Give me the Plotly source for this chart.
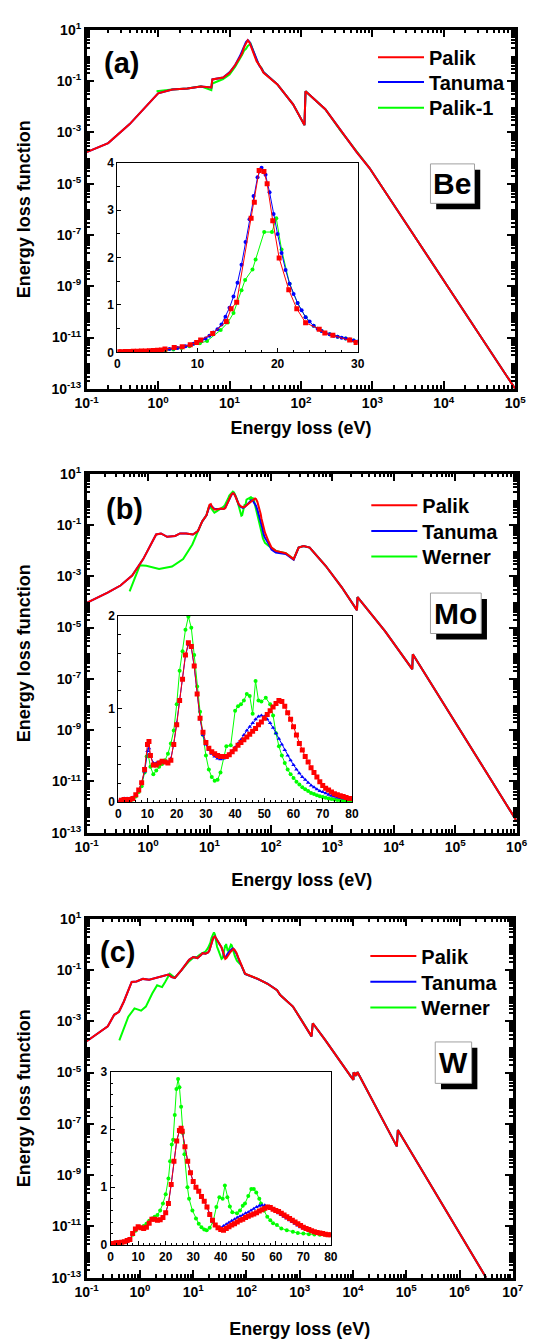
import plotly.graph_objects as go

# ---------------- DATA ----------------
# Panel (a) Be, main (log-log)
be_palik_E = [0.1, 0.2, 0.4, 0.68, 1.0, 1.58, 2.57, 3.98, 5.56, 5.75, 8.13, 10, 12, 14, 15, 16, 17, 18, 19, 20, 21, 22, 24, 26, 28, 30,
              46.8, 77.6, 112, 116, 219, 363, 603, 912, 100000]
be_palik_elf = [1.70e-4, 3.80e-4, 2.09e-3, 1.05e-2, 3.31e-2, 4.68e-2, 5.13e-2, 6.17e-2, 5.62e-2, 0.115, 0.138, 0.21, 0.42, 0.85, 1.2, 2.1, 3.1, 3.87, 3.2, 2.15, 1.5, 1.05, 0.58, 0.43, 0.31, 0.21,
                7.41e-2, 1.23e-2, 1.91e-3, 3.98e-2, 7.94e-3, 1.12e-3, 1.70e-4, 4.07e-5, 1e-13]
be_tanuma_E = [0.1, 0.2, 0.4, 0.68, 1.0, 1.58, 2.57, 3.98, 5.56, 5.75, 8.13, 10, 12, 14, 15, 16, 17, 18, 19, 20, 21, 22, 24, 26, 28, 30,
               46.8, 77.6, 112, 116, 219, 363, 603, 912, 100000]
be_tanuma_elf = [1.70e-4, 3.80e-4, 2.09e-3, 1.05e-2, 3.31e-2, 4.68e-2, 5.13e-2, 6.17e-2, 5.62e-2, 0.115, 0.138, 0.22, 0.42, 0.94, 1.5, 2.38, 3.33, 3.9, 3.36, 2.47, 1.71, 1.21, 0.64, 0.40, 0.31, 0.22,
                 7.41e-2, 1.23e-2, 1.91e-3, 3.98e-2, 7.94e-3, 1.12e-3, 1.70e-4, 4.07e-5, 1e-13]
be_palik1_E = [0.95, 1.58, 2.57, 3.98, 5.56, 5.75, 8.13, 10, 12, 14, 15, 16, 17, 18, 19, 19.8, 20.5, 21.5, 22.5, 24, 26, 28, 30,
               46.8, 77.6, 112, 116, 219, 363, 603, 912, 100000]
be_palik1_elf = [4.0e-2, 4.7e-2, 5.1e-2, 6.2e-2, 4.4e-2, 8.0e-2, 0.12, 0.18, 0.36, 0.70, 1.05, 1.55, 1.8, 2.35, 2.54, 2.83, 2.17, 1.45, 1.04, 0.65, 0.42, 0.32, 0.22,
                 7.41e-2, 1.23e-2, 1.91e-3, 3.98e-2, 7.94e-3, 1.12e-3, 1.70e-4, 4.07e-5, 1e-13]

# Panel (a) inset (linear)
be_in_palik_E = [0.2, 0.5, 1.0, 1.5, 2.0, 2.5, 3.0, 3.5, 4.0, 4.5, 5.0, 5.5, 5.95, 7.1, 8.1, 9.1, 9.9, 10.4, 11.9, 13.6, 14.2, 14.9,
                 16.7, 17.1, 17.7, 18.3, 18.7, 19.4, 20.2, 21.4, 22.4, 23.5, 25.2, 25.9, 26.9, 29.0, 29.8]
be_in_palik_elf = [0.01, 0.015, 0.02, 0.02, 0.025, 0.025, 0.03, 0.03, 0.035, 0.04, 0.045, 0.05, 0.07, 0.10, 0.12, 0.16, 0.21, 0.26, 0.40, 0.65, 0.92, 1.06,
                   2.83, 3.17, 3.84, 3.82, 3.56, 2.78, 1.99, 1.32, 0.92, 0.625, 0.49, 0.41, 0.36, 0.26, 0.21]
be_in_tanuma_E = [0.5, 1, 1.5, 2, 2.5, 3, 3.5, 4, 4.5, 5, 5.5, 6, 6.5, 7, 7.5, 8, 8.5, 9, 9.5, 10, 10.5, 11, 11.5, 12, 12.5, 13, 13.5, 14, 14.5, 15,
                  15.5, 16, 16.5, 17, 17.5, 18, 18.5, 19, 19.5, 20, 20.5, 21, 21.5, 22, 22.5, 23, 23.5, 24, 24.5, 25, 25.5, 26, 26.5, 27, 27.5, 28, 28.5, 29, 29.5, 30]
be_in_tanuma_elf = [0.01, 0.015, 0.02, 0.02, 0.025, 0.03, 0.03, 0.035, 0.04, 0.045, 0.05, 0.06, 0.07, 0.08, 0.09, 0.11, 0.13, 0.15, 0.18, 0.22, 0.25, 0.29, 0.35, 0.42, 0.49, 0.59, 0.75, 0.94, 1.18, 1.47,
                    1.85, 2.33, 2.81, 3.30, 3.70, 3.90, 3.75, 3.38, 2.92, 2.50, 2.10, 1.74, 1.45, 1.23, 1.04, 0.89, 0.74, 0.65, 0.56, 0.50, 0.45, 0.41, 0.38, 0.35, 0.33, 0.31, 0.29, 0.27, 0.25, 0.23]
be_in_palik1_E = [1, 2, 3, 4, 5, 6, 7, 8, 9, 10.3, 11.2, 12.9, 13.8, 14.5, 15.5, 15.95, 16.87, 17.26, 18.33, 19.3, 19.84, 20.5, 21.5, 22.5, 23.5, 24.5, 25.5, 26.5, 27.5, 28.5, 29.5]
be_in_palik1_elf = [0.005, 0.01, 0.015, 0.02, 0.03, 0.04, 0.06, 0.09, 0.13, 0.19, 0.24, 0.47, 0.63, 0.83, 1.31, 1.53, 1.75, 1.96, 2.54, 2.54, 2.83, 2.17, 1.45, 1.04, 0.74, 0.56, 0.45, 0.38, 0.33, 0.29, 0.25]

# Panel (b) Mo, main
mo_palik_E = [0.1, 0.219, 0.355, 0.55, 0.832, 1.35, 1.62, 2.04, 2.75, 3.31, 4.17, 5.37, 6.46, 7.59, 8.91, 10, 10.5, 11, 12, 13, 15, 17, 18, 19, 20, 21, 22, 23, 24, 25, 26, 27, 28, 29, 30,
              32, 35, 37, 40, 45, 50, 55, 57, 60, 62, 65, 68, 70, 72, 75, 80, 90, 102, 120, 174, 234, 282, 339, 427, 776, 1413, 2512, 2570, 7244, 19953, 20417, 1e6]
mo_palik_elf = [9.12e-5, 2.29e-4, 4.37e-4, 1.07e-3, 4.68e-3, 4.27e-2, 4.68e-2, 3.47e-2, 3.72e-2, 4.68e-2, 4.68e-2, 4.27e-2, 5.75e-2, 0.138, 0.24, 0.62, 0.65, 0.50, 0.40, 0.40, 0.44, 0.42, 0.45, 0.62, 0.83, 1.09, 1.32, 1.58, 1.71, 1.67, 1.46, 1.16, 0.90, 0.75, 0.64,
                0.54, 0.49, 0.50, 0.57, 0.73, 0.90, 1.09, 1.03, 0.81, 0.63, 0.43, 0.27, 0.18, 0.13, 0.08, 0.05, 0.025, 1.32e-2, 9.77e-3, 7.94e-3, 4.68e-3, 1.32e-2, 1.51e-2, 1.32e-2, 2.57e-3, 3.80e-4, 4.79e-5, 1.55e-4, 7.08e-6, 2.40e-7, 9.12e-7, 2.9e-13]
mo_tanuma_E = [0.1, 0.219, 0.355, 0.55, 0.832, 1.35, 1.62, 2.04, 2.75, 3.31, 4.17, 5.37, 6.46, 7.59, 8.91, 10, 10.5, 11, 12, 13, 15, 17, 18, 19, 20, 21, 22, 23, 24, 25, 26, 27, 28, 29, 30,
               32, 35, 37, 40, 45, 48, 50, 55, 57, 60, 62, 65, 68, 70, 72, 75, 78, 90, 102, 120, 174, 234, 282, 339, 427, 776, 1413, 2512, 2570, 7244, 19953, 20417, 1e6]
mo_tanuma_elf = [9.12e-5, 2.29e-4, 4.37e-4, 1.07e-3, 4.68e-3, 4.27e-2, 4.68e-2, 3.47e-2, 3.72e-2, 4.68e-2, 4.68e-2, 4.27e-2, 5.75e-2, 0.138, 0.24, 0.55, 0.58, 0.50, 0.42, 0.42, 0.44, 0.43, 0.47, 0.62, 0.85, 1.10, 1.33, 1.57, 1.69, 1.66, 1.45, 1.15, 0.89, 0.72, 0.62,
                 0.52, 0.46, 0.49, 0.59, 0.81, 0.92, 0.92, 0.68, 0.56, 0.40, 0.31, 0.21, 0.14, 0.11, 0.08, 0.05, 0.035, 0.02, 1.1e-2, 8.5e-3, 7.4e-3, 4.4e-3, 1.32e-2, 1.51e-2, 1.32e-2, 2.57e-3, 3.80e-4, 4.79e-5, 1.55e-4, 7.08e-6, 2.40e-7, 9.12e-7, 2.9e-13]
mo_werner_E = [0.5, 0.733, 0.933, 1.51, 2.45, 3.72, 5.25, 6.31, 7.59, 8.91, 9.7, 10.3, 11, 12, 13, 15, 17, 18, 19, 20, 21, 22, 23, 24, 25, 26, 27, 28, 29, 30, 31, 32, 33, 34, 35, 36, 37, 38.5,
               40, 42, 44, 45, 46, 47, 48, 50.5, 52, 54, 56, 58, 60, 62, 65, 68, 70, 74, 80, 90, 102, 120, 174, 234, 282, 339, 427, 776, 1413, 2512, 2570, 7244, 19953, 20417, 1e6]
mo_werner_elf = [2.57e-4, 2.69e-3, 2.57e-3, 1.91e-3, 2.40e-3, 4.68e-3, 1.74e-2, 5.01e-2, 0.138, 0.24, 0.49, 0.50, 0.38, 0.30, 0.34, 0.41, 0.52, 0.63, 0.77, 1.05, 1.41, 1.62, 1.85, 1.99, 1.87, 1.58, 1.24, 0.97, 0.72, 0.50, 0.35, 0.27, 0.23, 0.24, 0.32, 0.48, 0.60, 0.61,
                 0.98, 1.05, 1.16, 1.14, 0.95, 1.30, 1.09, 1.12, 1.05, 0.74, 0.50, 0.35, 0.26, 0.19, 0.12, 0.075, 0.055, 0.03, 0.02, 0.016, 1.32e-2, 9.77e-3, 7.94e-3, 4.68e-3, 1.32e-2, 1.51e-2, 1.32e-2, 2.57e-3, 3.80e-4, 4.79e-5, 1.55e-4, 7.08e-6, 2.40e-7, 9.12e-7, 2.9e-13]

# Panel (b) inset
mo_in_E = [0, 1, 2, 3, 4, 5, 6, 7, 8, 9, 10, 10.5, 11, 12, 13, 14, 15, 16, 17, 18, 19, 20, 21, 22, 23, 24, 25, 26, 27, 28, 29, 30, 31, 32, 33, 34, 35, 36, 37, 38, 39, 40,
           41, 42, 43, 44, 45, 46, 47, 48, 49, 50, 51, 52, 53, 54, 55, 56, 57, 58, 59, 60, 61, 62, 63, 64, 65, 66, 67, 68, 69, 70, 71, 72, 73, 74, 75, 76, 77, 78, 79, 80]
mo_in_palik = [0.0, 0.02, 0.03, 0.03, 0.03, 0.04, 0.08, 0.13, 0.21, 0.35, 0.62, 0.65, 0.50, 0.40, 0.40, 0.42, 0.44, 0.43, 0.42, 0.45, 0.62, 0.83, 1.09, 1.32, 1.58, 1.71, 1.67, 1.46, 1.16, 0.90, 0.75, 0.64, 0.58, 0.54, 0.52, 0.50, 0.49, 0.49, 0.49, 0.51, 0.54, 0.57,
               0.61, 0.64, 0.67, 0.70, 0.73, 0.76, 0.79, 0.83, 0.86, 0.90, 0.94, 0.98, 1.02, 1.06, 1.09, 1.08, 1.03, 0.96, 0.89, 0.81, 0.72, 0.63, 0.56, 0.49, 0.43, 0.37, 0.32, 0.27, 0.22, 0.18, 0.15, 0.13, 0.11, 0.09, 0.08, 0.07, 0.06, 0.05, 0.04, 0.04]
mo_in_tanuma = [0.01, 0.03, 0.04, 0.04, 0.04, 0.05, 0.08, 0.13, 0.21, 0.33, 0.55, 0.58, 0.50, 0.42, 0.42, 0.43, 0.44, 0.43, 0.43, 0.47, 0.62, 0.85, 1.10, 1.33, 1.57, 1.69, 1.66, 1.45, 1.15, 0.89, 0.72, 0.62, 0.56, 0.52, 0.49, 0.47, 0.46, 0.47, 0.49, 0.52, 0.55, 0.59,
                0.63, 0.67, 0.72, 0.77, 0.81, 0.85, 0.89, 0.92, 0.93, 0.92, 0.89, 0.85, 0.80, 0.74, 0.68, 0.62, 0.56, 0.50, 0.45, 0.40, 0.35, 0.31, 0.27, 0.24, 0.21, 0.18, 0.16, 0.14, 0.12, 0.11, 0.095, 0.08, 0.07, 0.06, 0.05, 0.045, 0.04, 0.035, 0.03, 0.03]
mo_in_werner_E = [1, 2, 3, 4, 5, 6, 7, 8, 9, 9.7, 10.3, 11, 12, 13, 14, 15, 16, 17, 18, 19, 20, 21, 22, 23, 24, 25, 26, 27, 28, 29, 30, 31, 32, 33, 34, 35, 36, 37, 38.5,
                  40, 41, 42, 43, 44, 45, 46, 47, 48, 49, 50.5, 52, 53, 54, 55, 56, 57, 58, 59, 60, 61, 62, 63, 64, 65, 66, 67, 68, 69, 70, 71, 72, 73, 74, 75, 76, 77, 78, 79, 80]
mo_in_werner = [0.01, 0.02, 0.02, 0.02, 0.03, 0.06, 0.11, 0.17, 0.32, 0.49, 0.50, 0.38, 0.30, 0.34, 0.38, 0.41, 0.45, 0.52, 0.63, 0.77, 1.05, 1.41, 1.62, 1.85, 1.99, 1.87, 1.58, 1.24, 0.97, 0.72, 0.50, 0.35, 0.27, 0.23, 0.24, 0.32, 0.48, 0.60, 0.61,
                0.98, 1.03, 1.05, 1.09, 1.16, 1.14, 0.95, 1.30, 1.09, 1.08, 1.12, 1.05, 0.93, 0.74, 0.60, 0.50, 0.42, 0.35, 0.30, 0.26, 0.22, 0.19, 0.16, 0.14, 0.12, 0.10, 0.087, 0.075, 0.065, 0.055, 0.047, 0.04, 0.034, 0.03, 0.025, 0.02, 0.018, 0.015, 0.012, 0.01]

# Panel (c) W, main
w_palik_E = [0.1, 0.249, 0.328, 0.404, 0.497, 0.70, 0.861, 1.14, 1.49, 2.26, 3.42, 3.94, 4.52, 5.96, 8.39, 10, 12, 14, 15, 17, 19, 20, 21, 22, 23, 24, 25.6, 27, 28, 30, 32, 34, 36, 38, 40,
             42, 45, 50, 55, 57, 60, 65, 70, 75, 80, 94, 164, 248, 375, 430, 745, 1127, 1663, 1758, 2972, 8933, 10200, 10210, 11540, 11550, 12100, 12110, 66374, 69525, 3.16e6]
w_palik_elf = [1.66e-4, 6.31e-4, 1.78e-3, 2.34e-3, 5.75e-3, 3.39e-2, 3.55e-2, 4.47e-2, 4.17e-2, 5.25e-2, 6.61e-2, 5.25e-2, 4.90e-2, 9.55e-2, 0.25, 0.32, 0.29, 0.38, 0.45, 0.43, 0.48, 0.56, 0.72, 1.05, 1.45, 1.80, 2.02, 1.70, 1.45, 1.10, 0.93, 0.76, 0.53, 0.35, 0.27,
               0.29, 0.37, 0.50, 0.61, 0.66, 0.60, 0.46, 0.31, 0.22, 0.18, 7.1e-2, 4.47e-2, 2.88e-2, 1.62e-2, 1.05e-2, 3.72e-3, 9.77e-4, 2.57e-4, 8.32e-4, 1.91e-4, 7.41e-6, 5.2e-6, 1.0e-5, 7.5e-6, 1.0e-5, 9.0e-6, 1.05e-5, 1.32e-8, 5.75e-8, 1e-13]
w_tanuma_E = [0.1, 0.249, 0.328, 0.404, 0.497, 0.70, 0.861, 1.14, 1.49, 2.26, 3.42, 3.94, 4.52, 5.96, 8.39, 10, 12, 14, 15, 17, 19, 20, 21, 22, 23, 24, 25.6, 27, 28, 30, 32, 34, 36, 38, 40,
              42, 45, 50, 55, 57, 60, 65, 70, 75, 80, 94, 164, 248, 375, 430, 745, 1127, 1663, 1758, 2972, 8933, 10200, 10210, 11540, 11550, 12100, 12110, 66374, 69525, 3.16e6]
w_tanuma_elf = [1.66e-4, 6.31e-4, 1.78e-3, 2.34e-3, 5.75e-3, 3.39e-2, 3.55e-2, 4.47e-2, 4.17e-2, 5.25e-2, 6.61e-2, 5.25e-2, 4.90e-2, 9.55e-2, 0.25, 0.32, 0.29, 0.38, 0.45, 0.43, 0.48, 0.56, 0.72, 1.05, 1.45, 1.80, 2.02, 1.70, 1.45, 1.10, 0.93, 0.75, 0.52, 0.33, 0.30,
                0.36, 0.45, 0.57, 0.69, 0.67, 0.58, 0.43, 0.29, 0.21, 0.17, 7.0e-2, 4.4e-2, 2.9e-2, 1.62e-2, 1.05e-2, 3.72e-3, 9.77e-4, 2.57e-4, 8.32e-4, 1.91e-4, 7.41e-6, 5.2e-6, 1.0e-5, 7.5e-6, 1.0e-5, 9.0e-6, 1.05e-5, 1.32e-8, 5.75e-8, 1e-13]
w_werner_E = [0.41, 0.605, 0.79, 1.05, 1.29, 1.70, 2.10, 2.60, 2.97, 3.63, 4.52, 5.96, 8.39, 10, 12, 14, 15, 17, 19, 20, 21, 22, 23, 23.9, 24.5, 25.6, 27, 28, 30, 32, 34, 36, 37.2, 38.4, 39.5,
              40.7, 41.5, 42.4, 44.2, 45.9, 48.8, 51.1, 52.9, 54.6, 56.9, 60.4, 66, 72, 80, 94, 164, 248, 375, 430, 745, 1127, 1663, 1758, 2972, 8933, 10200, 10210, 11540, 11550, 12100, 12110, 66374, 69525, 3.16e6]
w_werner_elf = [1.78e-4, 1.51e-3, 3.16e-3, 2.57e-3, 3.72e-3, 1.20e-2, 2.51e-2, 2.14e-2, 3.39e-2, 7.08e-2, 4.90e-2, 9.55e-2, 0.22, 0.30, 0.33, 0.42, 0.46, 0.52, 0.72, 0.88, 1.15, 1.74, 2.25, 2.70, 2.87, 2.39, 1.20, 0.80, 0.55, 0.37, 0.27, 0.30, 0.40, 0.66, 0.83,
                0.80, 1.03, 0.83, 0.57, 0.55, 0.72, 0.97, 0.91, 0.72, 0.49, 0.35, 0.23, 0.19, 0.15, 7.0e-2, 4.47e-2, 2.88e-2, 1.62e-2, 1.05e-2, 3.72e-3, 9.77e-4, 2.57e-4, 8.32e-4, 1.91e-4, 7.41e-6, 5.2e-6, 1.0e-5, 7.5e-6, 1.0e-5, 9.0e-6, 1.05e-5, 1.32e-8, 5.75e-8, 1e-13]

# Panel (c) inset
w_in_E = [0, 1, 2, 3, 4, 5, 6, 7, 8, 9, 10, 11, 12, 13, 14, 15, 16, 17, 18, 19, 20, 21, 22, 23, 24, 25, 25.6, 26, 27, 28, 29, 30, 31, 32, 33, 34, 35, 36, 37, 38, 39, 40,
          41, 42, 43, 44, 45, 46, 47, 48, 49, 50, 51, 52, 53, 54, 55, 56, 57, 58, 59, 60, 61, 62, 63, 64, 65, 66, 67, 68, 69, 70, 71, 72, 73, 74, 75, 76, 77, 78, 79, 80]
w_in_palik = [0.02, 0.03, 0.04, 0.04, 0.05, 0.06, 0.08, 0.10, 0.20, 0.28, 0.32, 0.30, 0.29, 0.31, 0.38, 0.45, 0.45, 0.43, 0.44, 0.48, 0.56, 0.72, 1.05, 1.45, 1.80, 1.98, 2.02, 1.97, 1.70, 1.45, 1.25, 1.10, 1.0, 0.93, 0.84, 0.76, 0.66, 0.53, 0.43, 0.35, 0.30, 0.27,
              0.26, 0.29, 0.32, 0.35, 0.37, 0.40, 0.43, 0.45, 0.48, 0.50, 0.52, 0.54, 0.56, 0.59, 0.61, 0.64, 0.66, 0.65, 0.62, 0.60, 0.58, 0.55, 0.52, 0.49, 0.46, 0.43, 0.40, 0.37, 0.34, 0.31, 0.29, 0.27, 0.25, 0.23, 0.22, 0.21, 0.20, 0.19, 0.18, 0.18]
w_in_tanuma = [0.03, 0.04, 0.05, 0.05, 0.05, 0.06, 0.08, 0.11, 0.20, 0.28, 0.32, 0.30, 0.29, 0.31, 0.38, 0.45, 0.45, 0.43, 0.44, 0.48, 0.56, 0.72, 1.05, 1.45, 1.80, 1.98, 2.02, 1.97, 1.70, 1.45, 1.25, 1.10, 1.0, 0.93, 0.84, 0.75, 0.67, 0.52, 0.41, 0.33, 0.29, 0.30,
               0.33, 0.36, 0.39, 0.42, 0.45, 0.48, 0.50, 0.52, 0.55, 0.57, 0.60, 0.63, 0.66, 0.68, 0.69, 0.69, 0.67, 0.64, 0.61, 0.58, 0.55, 0.52, 0.49, 0.46, 0.43, 0.40, 0.37, 0.34, 0.31, 0.29, 0.27, 0.25, 0.23, 0.22, 0.21, 0.20, 0.19, 0.18, 0.18, 0.17]
w_in_werner_E = [1, 2, 3, 4, 5, 6, 7, 8, 9, 10, 11, 12, 13, 14, 15, 16, 17, 18, 19, 20, 21, 21.6, 22.2, 22.7, 23.3, 23.9, 24.5, 25.0, 25.6, 26.2, 26.8, 27.9, 28.5, 29.7, 31, 32, 33, 34, 34.9, 36,
                 37.2, 38.4, 39.5, 40.7, 41.5, 42.4, 43.3, 44.2, 45.9, 47, 48, 48.8, 50, 51.1, 52, 52.9, 54, 54.6, 55.7, 56.9, 58, 59, 60.4, 62, 64, 66.2, 68, 70, 72, 74, 76, 78, 80]
w_in_werner = [0.02, 0.03, 0.04, 0.04, 0.05, 0.07, 0.10, 0.18, 0.25, 0.30, 0.30, 0.33, 0.37, 0.42, 0.46, 0.49, 0.52, 0.60, 0.72, 0.88, 1.15, 1.45, 1.74, 1.82, 2.25, 2.70, 2.87, 2.73, 2.39, 1.94, 1.57, 1.0, 0.80, 0.60, 0.46, 0.37, 0.31, 0.27, 0.26, 0.30,
               0.40, 0.66, 0.83, 0.80, 1.03, 0.83, 0.67, 0.57, 0.55, 0.60, 0.68, 0.72, 0.85, 0.97, 0.97, 0.91, 0.80, 0.72, 0.60, 0.49, 0.43, 0.38, 0.35, 0.29, 0.26, 0.23, 0.21, 0.20, 0.19, 0.185, 0.18, 0.18, 0.18]

# ---------------- LAYOUT ----------------
W, H = 542, 1339
FONT = 'Arial, "Liberation Sans", sans-serif'
RED, BLUE, GREEN = '#ff0000', '#0000ff', '#00ff00'


def xd(a, b):
    return [a / W, b / W]


def yd(top, bottom):
    return [1 - bottom / H, 1 - top / H]


def bold(size):
    return dict(family=FONT, size=size, color='black', weight='bold')


def pow_label(d):
    return '10<sup>%d</sup>' % d


fig = go.Figure()

panels = [
    dict(mx='x', my='y', ix='x2', iy='y2', ey='y7', top=20, bottom=384, right=525.5, xmax=5, xt_standoff=12,
         inset=dict(l=110, r=361, t=155, b=347, xmax=30, ymax=4, xminor=2, yminor=0.5),
         label='(a)', lab_xy=(114, 54), elem='Be', box=(437, 156, 483, 196),
         leg_x=381, leg_y=[48, 73, 99],
         main=[('Palik-1', be_palik1_E, be_palik1_elf, GREEN), ('Tanuma', be_tanuma_E, be_tanuma_elf, BLUE), ('Palik', be_palik_E, be_palik_elf, RED)],
         ins=[(be_in_palik1_E, be_in_palik1_elf, GREEN, 'circle', 4), (be_in_tanuma_E, be_in_tanuma_elf, BLUE, 'circle', 4), (be_in_palik_E, be_in_palik_elf, RED, 'square', 5)]),
    dict(mx='x3', my='y3', ix='x4', iy='y4', ey='y8', top=470, bottom=834, right=527, xmax=6, xt_standoff=20,
         inset=dict(l=111, r=355, t=614, b=803, xmax=80, ymax=2, xminor=2, yminor=0.2),
         label='(b)', lab_xy=(118, 506), elem='Mo', box=(437, 591, 490, 632),
         leg_x=374, leg_y=[502, 528, 554],
         main=[('Werner', mo_werner_E, mo_werner_elf, GREEN), ('Tanuma', mo_tanuma_E, mo_tanuma_elf, BLUE), ('Palik', mo_palik_E, mo_palik_elf, RED)],
         ins=[(mo_in_werner_E, mo_in_werner, GREEN, 'circle', 4), (mo_in_E, mo_in_tanuma, BLUE, 'triangle-up', 4), (mo_in_E, mo_in_palik, RED, 'square', 5)]),
    dict(mx='x5', my='y5', ix='x6', iy='y6', ey='y9', top=921, bottom=1285, right=523, xmax=7, xt_standoff=24,
         inset=dict(l=103, r=333, t=1076, b=1252, xmax=80, ymax=3, xminor=2, yminor=0.2),
         label='(c)', lab_xy=(110, 955), elem='W', box=(442, 1046, 480, 1088),
         leg_x=373, leg_y=[959, 985, 1011],
         main=[('Werner', w_werner_E, w_werner_elf, GREEN), ('Tanuma', w_tanuma_E, w_tanuma_elf, BLUE), ('Palik', w_palik_E, w_palik_elf, RED)],
         ins=[(w_in_werner_E, w_in_werner, GREEN, 'circle', 4), (w_in_E, w_in_tanuma, BLUE, 'triangle-up', 4), (w_in_E, w_in_palik, RED, 'square', 5)]),
]

row = {'Palik': 0, 'Tanuma': 1, 'Palik-1': 2, 'Werner': 2}
layout = dict(width=W, height=H, margin=dict(l=0, r=0, t=0, b=0), paper_bgcolor='white', plot_bgcolor='white',
              showlegend=True, shapes=[], annotations=[])

leg_count = 0
for p in panels:
    for name, xs, ys, col in p['main']:
        leg_count += 1
        lkey = 'legend' if leg_count == 1 else 'legend%d' % leg_count
        fig.add_trace(go.Scatter(x=xs, y=ys, mode='lines', name=name, line=dict(color=col, width=2),
                                 xaxis=p['mx'], yaxis=p['my'], legend=lkey))
        layout[lkey] = dict(x=(p['leg_x'] - 4) / W, y=1 - p['leg_y'][row[name]] / H, xanchor='left', yanchor='middle',
                            bgcolor='rgba(0,0,0,0)', font=bold(20), itemwidth=46)
    for xs, ys, col, sym, sz in p['ins']:
        fig.add_trace(go.Scatter(x=xs, y=ys, mode='lines+markers', showlegend=False,
                                 line=dict(color=col, width=1), marker=dict(color=col, symbol=sym, size=sz, line=dict(width=0)),
                                 xaxis=p['ix'], yaxis=p['iy']))

    decs = list(range(-1, p['xmax'] + 1))
    xkey = 'xaxis' + p['mx'][1:]
    ykey = 'yaxis' + p['my'][1:]
    ekey = 'yaxis' + p['ey'][1:]
    ixkey = 'xaxis' + p['ix'][1:]
    iykey = 'yaxis' + p['iy'][1:]
    common = dict(showline=True, linecolor='black', linewidth=2.5, mirror='allticks', ticks='inside', ticklen=8,
                  tickwidth=2, tickcolor='black', showgrid=False, zeroline=False, tickmode='array')
    layout[xkey] = dict(type='log', range=[-1, p['xmax']], domain=xd(78, p['right']), anchor=p['my'],
                        tickvals=[10.0 ** d for d in decs], ticktext=[pow_label(d) for d in decs],
                        minor=dict(tickmode='array', tickvals=[k * 10.0 ** d for d in decs[:-1] for k in range(2, 10)],
                                   ticks='inside', ticklen=4, tickwidth=1.5, tickcolor='black'),
                        tickfont=bold(14),
                        title=dict(text='Energy loss (eV)', font=bold(18), standoff=p['xt_standoff']), **common)
    odd = list(range(-13, 2, 2))
    even = list(range(-12, 1, 2))
    layout[ykey] = dict(type='log', range=[-13, 1], domain=yd(p['top'], p['bottom']), anchor=p['mx'],
                        tickvals=[10.0 ** d for d in odd], ticktext=[pow_label(d) for d in odd],
                        minor=dict(tickmode='array', tickvals=[k * 10.0 ** d for d in range(-13, 1) for k in range(2, 10)],
                                   ticks='inside', ticklen=4, tickwidth=1.5, tickcolor='black'),
                        tickfont=bold(14),
                        title=dict(text='Energy loss function', font=bold(18), standoff=17), **common)
    # unlabeled major ticks at the even decades
    layout[ekey] = dict(type='log', range=[-13, 1], overlaying=p['my'], anchor=p['mx'], side='left',
                        showline=False, mirror='allticks', ticks='inside', ticklen=8, tickwidth=2, tickcolor='black',
                        tickmode='array', tickvals=[10.0 ** d for d in even], showticklabels=False,
                        showgrid=False, zeroline=False)
    ins = p['inset']
    icommon = dict(showline=True, linecolor='black', linewidth=1, mirror=True, ticks='inside', ticklen=4,
                   tickwidth=1, tickcolor='black', showgrid=False, zeroline=False, tickfont=bold(12))
    layout[ixkey] = dict(range=[0, ins['xmax']], domain=xd(ins['l'], ins['r']), anchor=p['iy'], dtick=10, tick0=0,
                         minor=dict(dtick=ins['xminor'], ticks='inside', ticklen=2.5, tickwidth=1, tickcolor='black'), **icommon)
    layout[iykey] = dict(range=[0, ins['ymax']], domain=yd(ins['t'], ins['b']), anchor=p['ix'], dtick=1, tick0=0,
                         minor=dict(dtick=ins['yminor'], ticks='inside', ticklen=2.5, tickwidth=1, tickcolor='black'), **icommon)

    # panel label
    layout['annotations'].append(dict(text=p['label'], x=p['lab_xy'][0] / W, y=1 - p['lab_xy'][1] / H, xref='paper', yref='paper',
                                      showarrow=False, font=bold(29), xanchor='center', yanchor='middle'))
    # element box with shadow
    x0, y0, x1, y1 = p['box']
    layout['shapes'].append(dict(type='rect', xref='paper', yref='paper', x0=(x0 + 6) / W, x1=(x1 + 6) / W,
                                 y0=1 - (y1 + 6) / H, y1=1 - (y0 + 6) / H, fillcolor='black', line=dict(width=0)))
    layout['shapes'].append(dict(type='rect', xref='paper', yref='paper', x0=x0 / W, x1=x1 / W,
                                 y0=1 - y1 / H, y1=1 - y0 / H, fillcolor='white', line=dict(color='#a0a0a0', width=1)))
    layout['annotations'].append(dict(text=p['elem'], x=(x0 + x1) / 2 / W, y=1 - (y0 + y1) / 2 / H, xref='paper', yref='paper',
                                      showarrow=False, font=bold(30), xanchor='center', yanchor='middle'))

fig.update_layout(**layout)
fig.write_html('out.html')
